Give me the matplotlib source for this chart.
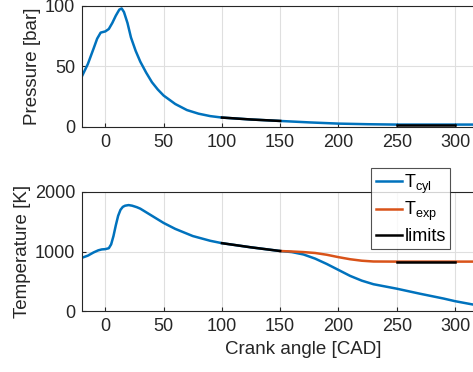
import numpy as np
import matplotlib.pyplot as plt

plt.rcParams['font.family'] = ['Liberation Sans', 'DejaVu Sans']
plt.rcParams['mathtext.fontset'] = 'custom'
plt.rcParams['mathtext.rm'] = 'Liberation Sans'

# crank angle points
cad_p = [-20, -15, -10, -7, -4, 0, 3, 6, 9, 12, 14, 16, 19, 22, 26, 30, 35, 40, 45, 50,
         60, 70, 80, 90, 100, 125, 150, 175, 200, 225, 250, 275, 300, 340]
pressure = [42, 52, 65, 73, 78, 79, 81, 86, 92, 97, 98, 95, 86, 74, 63, 54, 45, 37, 31, 26,
            19, 14, 11, 9, 7.8, 6.2, 5, 3.8, 2.8, 2.3, 2, 2, 2, 2]

cad_t = [-20, -15, -10, -6, -3, 0, 3, 5, 7, 9, 11, 13, 15, 17, 20, 23, 27, 30, 40, 50,
         60, 75, 90, 100, 125, 150, 160, 170, 180, 190, 200, 210, 220, 230, 250, 270,
         290, 300, 315, 340]
t_cyl = [895, 930, 985, 1020, 1035, 1040, 1055, 1120, 1260, 1440, 1600, 1700, 1750, 1770,
         1780, 1770, 1745, 1720, 1600, 1480, 1380, 1260, 1180, 1140, 1070, 1008, 990, 950,
         880, 790, 690, 590, 510, 450, 375, 290, 210, 165, 110, 60]

cad_exp = [150, 160, 170, 180, 190, 200, 210, 220, 230, 250, 275, 300, 340]
t_exp = [1008, 1000, 990, 975, 945, 905, 870, 845, 832, 830, 830, 830, 830]

blue = '#0072BD'
orange = '#D95319'
fs = 13

fig = plt.figure(figsize=(4.73, 3.72), dpi=100)
ax1 = fig.add_axes([82 / 473, 1 - 127 / 372, 443 / 473, 121 / 372])
ax2 = fig.add_axes([82 / 473, 1 - 311 / 372, 443 / 473, 119 / 372])

cad_p = np.array(cad_p)
pressure = np.array(pressure)
cad_t = np.array(cad_t)
t_cyl = np.array(t_cyl)
cad_exp = np.array(cad_exp)
t_exp = np.array(t_exp)

ax1.plot(cad_p, pressure, color=blue, lw=1.8)
m = (cad_p >= 100) & (cad_p <= 150)
ax1.plot(cad_p[m], pressure[m], color='k', lw=1.8)
m = (cad_p >= 250) & (cad_p <= 300)
ax1.plot(cad_p[m], pressure[m], color='k', lw=1.8)

ax2.plot(cad_t, t_cyl, color=blue, lw=1.8, label='T$_\\mathrm{cyl}$')
ax2.plot(cad_exp, t_exp, color=orange, lw=1.8, label='T$_\\mathrm{exp}$')
m = (cad_t >= 100) & (cad_t <= 150)
ax2.plot(cad_t[m], t_cyl[m], color='k', lw=1.8, label='limits')
m = (cad_exp >= 250) & (cad_exp <= 300)
ax2.plot(cad_exp[m], t_exp[m], color='k', lw=1.8)

for ax in (ax1, ax2):
    ax.set_xlim(-20, 360)
    ax.set_xticks([0, 50, 100, 150, 200, 250, 300])
    ax.grid(True, color='#dfdfdf', lw=0.8)
    ax.set_axisbelow(True)
    ax.tick_params(direction='in', length=3, labelsize=fs, colors='#262626', pad=5)
    for s in ax.spines.values():
        s.set_color('#262626')
        s.set_linewidth(0.8)

ax1.set_ylim(0, 100)
ax1.set_yticks([0, 50, 100])
ax1.set_ylabel('Pressure [bar]', fontsize=13.5, color='#262626', labelpad=3)

ax2.set_ylim(0, 2000)
ax2.set_yticks([0, 1000, 2000])
ax2.set_ylabel('Temperature [K]', fontsize=13.5, color='#262626', labelpad=3)
ax2.set_xlabel('Crank angle [CAD]', fontsize=13.5, color='#262626', labelpad=4)

leg = fig.legend(loc='upper left', bbox_to_anchor=(371 / 473, 1 - 168 / 372),
                 fontsize=fs, frameon=True, fancybox=False, edgecolor='#262626',
                 handlelength=1.45, handletextpad=0.15, borderpad=0.25, labelspacing=0.25,
                 borderaxespad=0)
leg.get_frame().set_linewidth(0.8)

fig.savefig('out.png', dpi=100)
